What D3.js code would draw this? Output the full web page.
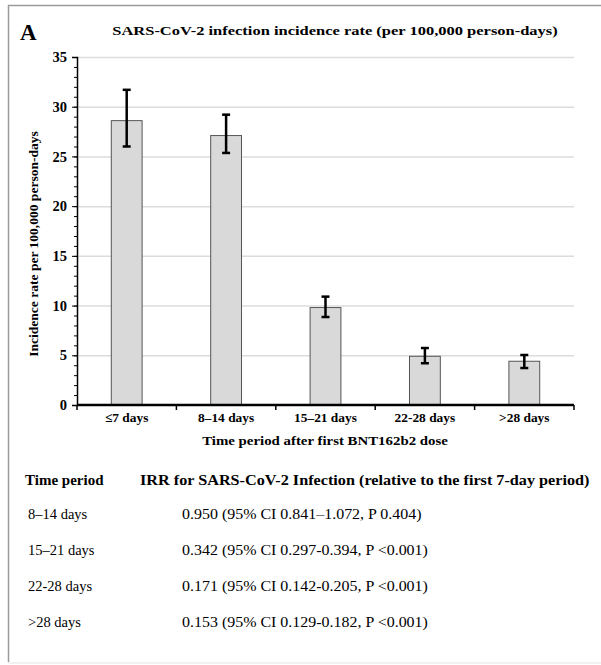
<!DOCTYPE html>
<html><head><meta charset="utf-8">
<script src="https://cdn.jsdelivr.net/npm/d3@7"></script>
<style>body{margin:0;background:#fff}svg{display:block}</style>
</head><body><svg id="c" width="601" height="665"></svg>
<script>
const categories = ["≤7 days","8–14 days","15–21 days","22-28 days",">28 days"];
const rates = [28.6, 27.1, 9.8, 4.9, 4.4];
const lower = [26.0, 25.35, 8.85, 4.2, 3.72];
const upper = [31.7, 29.2, 10.9, 5.73, 5.03];
const yTicks = [0,5,10,15,20,25,30,35];
const tablePeriods = ["8–14 days","15–21 days","22-28 days",">28 days"];
const tableIRR = ["0.950 (95% CI 0.841–1.072, P 0.404)","0.342 (95% CI 0.297-0.394, P <0.001)","0.171 (95% CI 0.142-0.205, P <0.001)","0.153 (95% CI 0.129-0.182, P <0.001)"];

const FONT = "'Liberation Serif', 'Times New Roman', 'DejaVu Serif', serif";
const svg = d3.select("#c").attr("font-family", FONT);
// stretch text horizontally by factor k (reference text is wider than the font's natural width)
function stretch(sel, k){
  sel.each(function(){ const w=this.getComputedTextLength();
    d3.select(this).attr("textLength", w*k).attr("lengthAdjust","spacingAndGlyphs"); });
}
svg.append("path").attr("d","M601,5.5 H8.5 V662").attr("fill","none").attr("stroke","#9a9a9a").attr("stroke-width",1.5);
svg.append("line").attr("x1",8).attr("x2",601).attr("y1",663).attr("y2",663).attr("stroke","#e4e4e4");

svg.append("text").attr("x",20).attr("y",40).attr("font-size",23).attr("font-weight","bold").text("A");
svg.append("text").attr("x",335).attr("y",35).attr("text-anchor","middle").attr("font-size",13.5).attr("font-weight","bold")
  .text("SARS-CoV-2 infection incidence rate (per 100,000 person-days)").call(stretch,1.22);

const L=77,R=574,T=57,B=405;
const x = d3.scaleBand().domain(categories).range([L,R]).paddingInner(0.69).paddingOuter(0.345);
const y = d3.scaleLinear().domain([0,35]).range([B,T]);

svg.append("g").selectAll("line").data(yTicks.filter(d=>d>0)).join("line")
  .attr("x1",L).attr("x2",R).attr("y1",d=>y(d)+0.5).attr("y2",d=>y(d)+0.5).attr("stroke","#dcdcdc").attr("stroke-width",1.5);

svg.append("g").selectAll("rect").data(rates).join("rect")
  .attr("x",(d,i)=>x(categories[i])).attr("width",x.bandwidth())
  .attr("y",d=>y(d)).attr("height",d=>B-y(d))
  .attr("fill","#d9d9d9").attr("stroke","#555").attr("stroke-width",1);

const eb = svg.append("g").attr("stroke","#000").attr("stroke-width",2.5);
rates.forEach((d,i)=>{
  const cx = x(categories[i])+x.bandwidth()/2;
  eb.append("line").attr("x1",cx).attr("x2",cx).attr("y1",y(upper[i])).attr("y2",y(lower[i]));
  eb.append("line").attr("x1",cx-4).attr("x2",cx+4).attr("y1",y(upper[i])).attr("y2",y(upper[i]));
  eb.append("line").attr("x1",cx-4).attr("x2",cx+4).attr("y1",y(lower[i])).attr("y2",y(lower[i]));
});

const ya = svg.append("g").attr("transform",`translate(${L},0)`)
  .call(d3.axisLeft(y).tickValues(yTicks).tickSize(5).tickPadding(5));
ya.attr("font-family", FONT);
ya.select(".domain").attr("stroke","#000").attr("stroke-width",1.5);
ya.selectAll("text").attr("font-size",14.5).attr("font-weight","bold");
svg.append("g").attr("transform",`translate(${L},0)`)
  .call(d3.axisLeft(y).ticks(35).tickSize(3).tickFormat(""))
  .select(".domain").remove();

const xa = svg.append("g").attr("transform",`translate(0,${B})`);
xa.append("line").attr("x1",L).attr("x2",R).attr("stroke","#000").attr("stroke-width",2.5);
const step = x.step();
xa.selectAll("line.t").data(d3.range(categories.length+1)).join("line").attr("class","t")
  .attr("x1",i=>L+i*step).attr("x2",i=>L+i*step).attr("y1",0).attr("y2",5).attr("stroke","#000").attr("stroke-width",1.5);
xa.selectAll("text").data(categories).join("text")
  .attr("x",d=>x(d)+x.bandwidth()/2).attr("y",17).attr("text-anchor","middle")
  .attr("font-size",13).attr("font-weight","bold").text(d=>d).call(stretch,1.03);

svg.append("text").attr("x",325).attr("y",445).attr("text-anchor","middle").attr("font-size",13.5).attr("font-weight","bold")
  .text("Time period after first BNT162b2 dose").call(stretch,1.1);
svg.append("text").attr("transform","translate(38,244) rotate(-90)").attr("text-anchor","middle").attr("font-size",13).attr("font-weight","bold")
  .text("Incidence rate per 100,000 person-days").call(stretch,1.04);

svg.append("text").attr("x",25).attr("y",485).attr("font-size",15).attr("font-weight","bold").text("Time period");
svg.append("text").attr("x",140).attr("y",485).attr("font-size",15).attr("font-weight","bold")
  .text("IRR for SARS-CoV-2 Infection (relative to the first 7-day period)").call(stretch,1.08);
svg.append("g").selectAll("text").data(tablePeriods).join("text")
  .attr("x",28).attr("y",(d,i)=>519+i*36).attr("font-size",14.5).text(d=>d);
svg.append("g").selectAll("text").data(tableIRR).join("text")
  .attr("x",182).attr("y",(d,i)=>519+i*36).attr("font-size",14.5).text(d=>d).call(stretch,1.1);
</script></body></html>
